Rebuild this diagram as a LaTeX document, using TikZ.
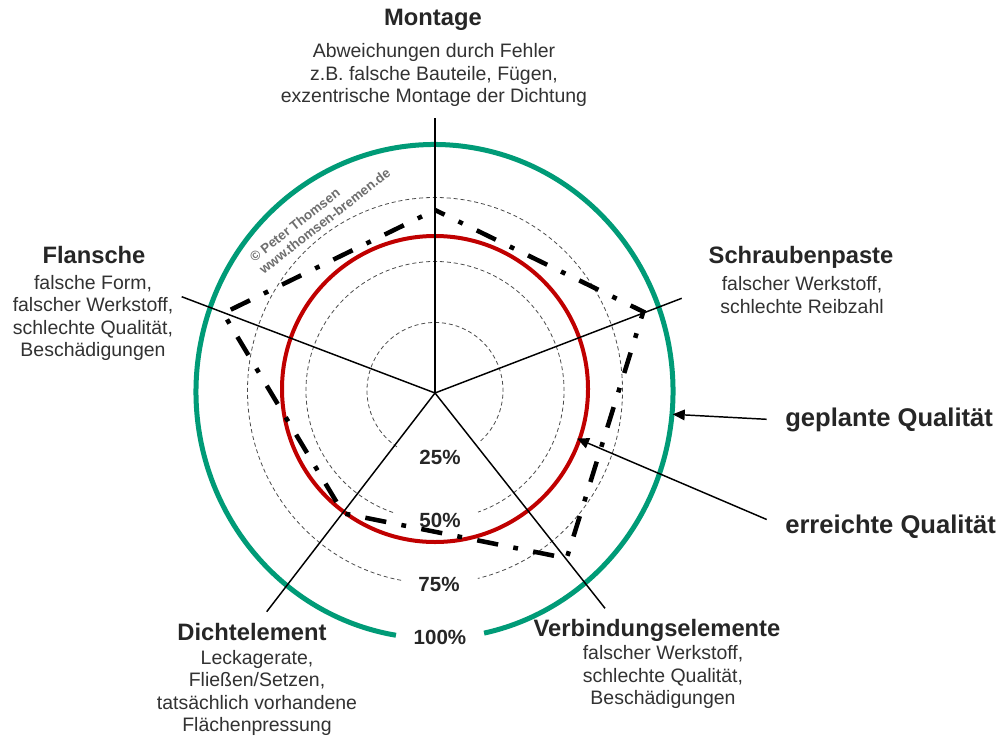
\documentclass[tikz,border=0pt]{standalone}
\usepackage{fontspec}
\setmainfont{Liberation Sans}
\usetikzlibrary{arrows.meta}
\definecolor{qgreen}{RGB}{0,155,119}
\definecolor{qred}{RGB}{192,0,0}
\definecolor{txt}{RGB}{38,38,38}
\definecolor{bodycol}{RGB}{50,50,50}
\definecolor{wmgray}{RGB}{110,110,110}
\begin{document}
\begin{tikzpicture}[x=0.75pt,y=-0.75pt,
  ttl/.style={font=\fontsize{17.8pt}{20pt}\selectfont\bfseries, text=txt, inner sep=0pt},
  bodytxt/.style={font=\fontsize{14.6pt}{16.9pt}\selectfont, text=bodycol, align=center, inner sep=0pt},
  pct/.style={font=\fontsize{15.4pt}{18pt}\selectfont\bfseries, text=txt, inner sep=0pt},
  quality/.style={font=\fontsize{19.2pt}{22pt}\selectfont\bfseries, text=txt, inner sep=0pt, anchor=west},
  wmark/.style={font=\fontsize{10pt}{11.5pt}\selectfont\bfseries, text=wmgray, align=left, inner sep=0pt},
  spoke/.style={draw=black, line width=1.1pt},
  ringline/.style={draw=black!70, line width=0.6pt, dash pattern=on 3pt off 2.2pt},
  achieved/.style={draw=black, line width=3.4pt, dash pattern=on 16pt off 11.6pt on 3.6pt off 11.6pt, dash phase=8pt},
  pointer/.style={draw=black, line width=1.1pt, -{Triangle[length=9pt,width=8pt]}}
]
\fill[white] (0,0) rectangle (1005,738);
\useasboundingbox (0,0) rectangle (1005,738);

% centres
\coordinate (O) at (435,393);
\coordinate (C) at (435,390.5);
\coordinate (CR) at (435,389);
\coordinate (CG) at (434.5,391.5);

% dashed rings
\draw[ringline] (C) ++(124:68) arc[start angle=124, end angle=408.6, radius=68];
\draw[ringline] (C) ++(109:129) arc[start angle=109, end angle=430.5, radius=129];
\draw[ringline] (C) ++(100.4:187.5 and 193) arc[start angle=100.4, end angle=436.8, x radius=187.5, y radius=193];

% green planned quality ring
\draw[qgreen, line width=3.75pt] (CG) ++(99.3:238.5 and 247) arc[start angle=99.3, end angle=438, x radius=238.5, y radius=247];

% red achieved quality ring
\draw[qred, line width=3pt] (CR) circle[radius=153];

% spokes
\coordinate (aT) at (435,118);
\coordinate (aR) at (681.7,298.3);
\coordinate (aL) at (181.7,296.7);
\coordinate (aBR) at (605,608.3);
\coordinate (aBL) at (266.7,611.7);
\draw[spoke] (O) -- (aT);
\draw[spoke] (O) -- (aR);
\draw[spoke] (O) -- (aL);
\draw[spoke] (O) -- (aBR);
\draw[spoke] (O) -- (aBL);

% dash-dot polygon
\coordinate (pT) at (435,210);
\coordinate (pR) at (643.3,311.7);
\coordinate (pBR) at (566.7,558.3);
\coordinate (pBL) at (343.3,513.3);
\coordinate (pL) at (223.3,313.3);
\draw[achieved] (pT) -- (pR) -- (pBR) -- (pBL) -- (pL) -- cycle;

% percent labels
\node[pct] (p25) at (440,457) {25\%};
\node[pct] (p50) at (440,520) {50\%};
\node[pct] (p75) at (439,584) {75\%};
\node[pct] (p100) at (440,637) {100\%};

% category labels
\node[ttl] (mT) at (433,20) {Montage};
\node[bodytxt] (mB) at (434,75) {Abweichungen durch Fehler\\z.B. falsche Bauteile, Fügen,\\exzentrische Montage der Dichtung};
\node[ttl] (fT) at (94,255) {Flansche};
\node[bodytxt] (fB) at (93,318) {falsche Form,\\falscher Werkstoff,\\schlechte Qualität,\\Beschädigungen};
\node[ttl] (sT) at (801,257) {Schraubenpaste};
\node[bodytxt] (sB) at (802,295) {falscher Werkstoff,\\schlechte Reibzahl};
\node[ttl] (dT) at (252,632) {Dichtelement};
\node[bodytxt] (dB) at (257,693) {Leckagerate,\\Fließen/Setzen,\\tatsächlich vorhandene\\Flächenpressung};
\node[ttl] (vT) at (657,630) {Verbindungselemente};
\node[bodytxt] (vB) at (663,677) {falscher Werkstoff,\\schlechte Qualität,\\Beschädigungen};

% quality labels and pointers
\node[quality] (gq) at (785,420) {geplante Qualität};
\node[quality] (eq) at (785,527) {erreichte Qualität};
\coordinate (gTip) at (672.7,414.3);
\coordinate (eTip) at (577,438.5);
\draw[pointer] ([shift={(-18.3,-0.7)}]gq.west) -- (gTip);
\draw[pointer] ([shift={(-18.3,-7.5)}]eq.west) -- (eTip);

% watermark
\node[wmark, rotate=38] (wm) at (320,215) {© Peter Thomsen\\www.thomsen-bremen.de};
\end{tikzpicture}
\end{document}
